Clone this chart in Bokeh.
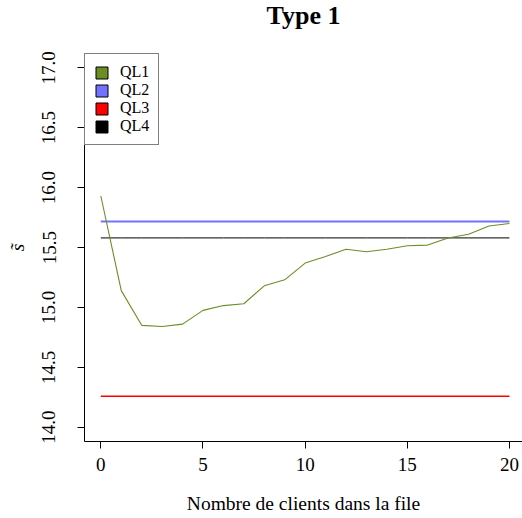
from bokeh.plotting import figure
from bokeh.models import (Range1d, FixedTicker, PrintfTickFormatter, Legend, LegendItem,
                          ColumnDataSource, Title)
from bokeh.embed import file_html
from bokeh.resources import INLINE

# ---- data ----
clients = list(range(0, 21))
ql1 = [15.93, 15.14, 14.85, 14.84, 14.86, 14.975, 15.015, 15.03, 15.18, 15.23, 15.37,
       15.425, 15.485, 15.465, 15.485, 15.515, 15.52, 15.58, 15.61, 15.68, 15.70]
ql2 = [15.717] * 21
ql3 = [14.257] * 21
ql4 = [15.58] * 21
series_names = ["QL1", "QL2", "QL3", "QL4"]
series_colors = ["#6b8e23", "#7272ff", "#ff0000", "#000000"]
x_ticks = [0, 5, 10, 15, 20]
y_ticks = [14.0, 14.5, 15.0, 15.5, 16.0, 16.5, 17.0]
title_text = "Type 1"

FONT = "Liberation Serif"

p = figure(width=522, height=518, output_backend="svg", toolbar_location=None,
           x_range=Range1d(-0.8, 20.64), y_range=Range1d(13.88, 17.12),
           min_border_left=84, min_border_right=0, min_border_top=0, min_border_bottom=77)

p.outline_line_color = None
p.xgrid.visible = False
p.ygrid.visible = False
p.background_fill_color = "white"
p.border_fill_color = "white"

# spacer (nearest the frame) then the real title on top
spacer = Title(text=" ", text_font=FONT, text_font_size="10px", standoff=9)
p.add_layout(spacer, "above")
main_title = Title(text=title_text, text_font=FONT, text_font_size="26px",
                   text_font_style="bold", text_color="black", align="center",
                   vertical_align="top", standoff=0)
p.add_layout(main_title, "above")

for ax in (p.xaxis[0], p.yaxis[0]):
    ax.major_tick_out = 7
    ax.major_tick_in = 0
    ax.minor_tick_out = 0
    ax.minor_tick_in = 0
    ax.axis_line_color = "black"
    ax.major_tick_line_color = "black"
    ax.major_label_text_font = FONT
    ax.major_label_text_font_size = "19px"
    ax.major_label_text_color = "black"
    ax.axis_label_text_font = FONT
    ax.axis_label_text_font_size = "19.5px"
    ax.axis_label_text_font_style = "normal"
    ax.axis_label_text_color = "black"

p.xaxis.ticker = FixedTicker(ticks=x_ticks)
p.yaxis.ticker = FixedTicker(ticks=y_ticks)
p.yaxis.formatter = PrintfTickFormatter(format="%.1f")
p.yaxis.major_label_orientation = "vertical"
p.xaxis.axis_label = "Nombre de clients dans la file"
p.yaxis.axis_label = "s\u0303"
p.yaxis.axis_label_text_font_style = "italic"
p.xaxis.major_label_standoff = 9
p.xaxis.axis_label_standoff = 19
p.yaxis.major_label_standoff = 22
p.yaxis.axis_label_standoff = 12

src = ColumnDataSource(dict(x=clients, ql1=ql1, ql2=ql2, ql3=ql3, ql4=ql4))
p.line("x", "ql2", source=src, line_color=series_colors[1], line_width=2)
p.line("x", "ql4", source=src, line_color=series_colors[3], line_width=1)
p.line("x", "ql3", source=src, line_color=series_colors[2], line_width=1.5)
p.line("x", "ql1", source=src, line_color=series_colors[0], line_width=1.1)

# legend swatches (square fills), placed outside the visible range
items = []
for name, col in zip(series_names, series_colors):
    sw = ColumnDataSource(dict(l=[-50], r=[-49], b=[0], t=[1]))
    r = p.quad(left="l", right="r", bottom="b", top="t", source=sw,
               fill_color=col, line_color="black", line_width=1)
    items.append(LegendItem(label=name, renderers=[r]))

legend = Legend(items=items, location="top_left", margin=0, padding=9, spacing=0,
                glyph_width=15, glyph_height=15, label_height=15, label_standoff=11,
                label_text_font=FONT, label_text_font_size="16px", label_text_color="black",
                border_line_color="black", border_line_width=1,
                background_fill_color="white", background_fill_alpha=1.0)
p.add_layout(legend)

open("out.html", "w").write(file_html(p, INLINE))
